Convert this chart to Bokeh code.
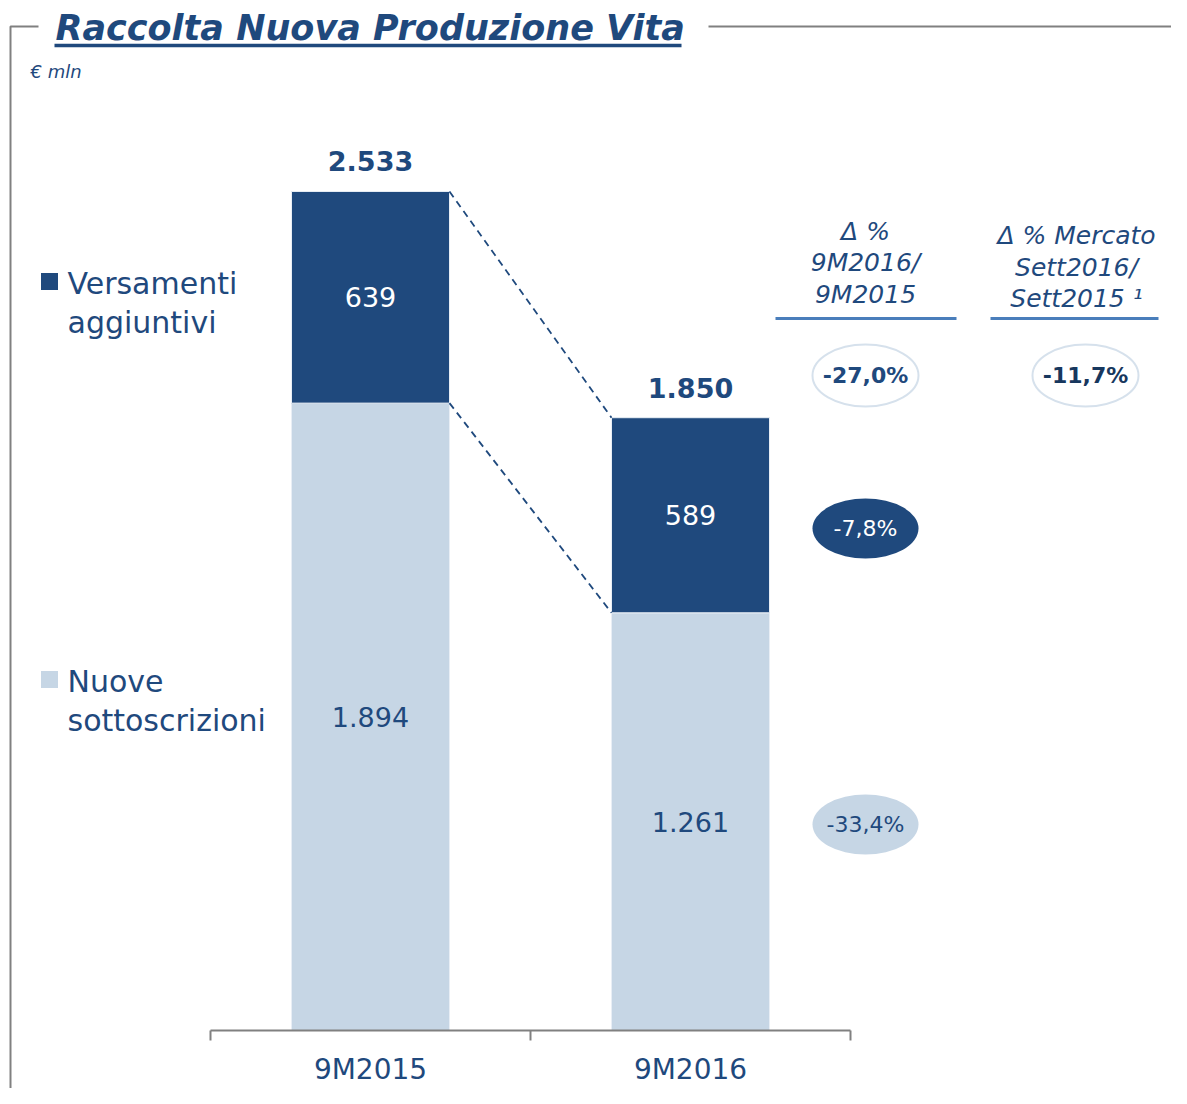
from bokeh.plotting import figure
from bokeh.models import Range1d
from bokeh.core.properties import value
from bokeh.embed import file_html
from bokeh.resources import INLINE

# ---- data ----
categories = ["9M2015", "9M2016"]
nuove = [1894, 1261]
versamenti = [639, 589]
totals = [2533, 1850]
delta_total = "-27,0%"
delta_market = "-11,7%"
delta_versamenti = "-7,8%"
delta_nuove = "-33,4%"
legend_labels = [["Versamenti", "aggiuntivi"], ["Nuove", "sottoscrizioni"]]
header1 = ["Δ %", "9M2016/", "9M2015"]
header2 = ["Δ % Mercato", "Sett2016/", "Sett2015 ¹"]

DARK = "#1F497D"
LIGHT = "#C6D6E5"
TXT = "#1F497D"
GRAY = "#808080"
FONT = value("DejaVu Sans")

W, H = 1171, 1088
K = 0.33124  # px per unit


def X(rx):
    return (rx - 370) / 320.0


def Y(ry):
    return (1030 - ry) / K


p = figure(width=W, height=H, output_backend="svg", toolbar_location=None,
           x_range=Range1d(X(0), X(W)), y_range=Range1d(Y(H), Y(0)),
           min_border=0, min_border_left=0, min_border_right=0,
           min_border_top=0, min_border_bottom=0)
p.axis.visible = False
p.grid.visible = False
p.outline_line_color = None
p.background_fill_color = "white"
p.border_fill_color = "white"

xs = list(range(len(categories)))
bw = 158 / 320.0

# bars
p.vbar(x=xs, width=bw, bottom=0, top=nuove, fill_color=LIGHT,
       line_color="#E8EEF5", line_width=1)
tops = [a + b for a, b in zip(nuove, versamenti)]
p.vbar(x=xs, width=bw, bottom=nuove, top=tops, fill_color=DARK,
       line_color="#E8EEF5", line_width=1)

fmt = lambda v: f"{v:,}".replace(",", ".")

# dashed connectors
p.segment(x0=[xs[0] + bw / 2] * 2, y0=[tops[0], nuove[0]],
          x1=[xs[1] - bw / 2] * 2, y1=[tops[1], nuove[1]],
          line_color=DARK, line_width=1.8, line_dash="7 5")

# segment labels
p.text(x=xs, y=[n + v / 2 for n, v in zip(nuove, versamenti)],
       text=[fmt(v) for v in versamenti], text_color="white",
       text_font=FONT, text_font_size="27px", text_align="center",
       text_baseline="middle")
p.text(x=xs, y=[n / 2 for n in nuove], text=[fmt(v) for v in nuove],
       text_color=TXT, text_font=FONT, text_font_size="27px",
       text_align="center", text_baseline="middle")
p.text(x=xs, y=totals, text=[fmt(v) for v in totals], text_color=TXT,
       text_font=FONT, text_font_size="27px", text_font_style="bold",
       text_align="center", text_baseline="middle", y_offset=-30)

# x axis
p.segment(x0=[-0.5], y0=[0], x1=[len(categories) - 0.5], y1=[0],
          line_color=GRAY, line_width=2)
p.segment(x0=[-0.5 + i for i in range(len(categories) + 1)], y0=[0] * 3,
          x1=[-0.5 + i for i in range(len(categories) + 1)], y1=[Y(1040)] * 3,
          line_color=GRAY, line_width=2)
p.text(x=xs, y=[0] * 2, text=categories, text_color=TXT, text_font=FONT,
       text_font_size="28px", text_align="center", text_baseline="middle",
       y_offset=39)

# frame
p.line(x=[X(10), X(10), X(38)], y=[Y(1110), Y(26), Y(26)], line_color=GRAY,
       line_width=2)
p.line(x=[X(708), X(1190)], y=[Y(26), Y(26)], line_color=GRAY, line_width=2)

# title
p.text(x=[X(55)], y=[Y(27)], text=["Raccolta Nuova Produzione Vita"],
       text_color=TXT, text_font=FONT, text_font_size="35px",
       text_font_style="bold italic", text_align="left", text_baseline="middle")
p.segment(x0=[X(54)], y0=[Y(45)], x1=[X(681)], y1=[Y(45)], line_color=TXT,
          line_width=3.5)
p.text(x=[X(30)], y=[Y(71)], text=["€ mln"], text_color=TXT, text_font=FONT,
       text_font_size="18px", text_font_style="italic", text_align="left",
       text_baseline="middle")

# legend
p.scatter(x=[X(49)], y=[Y(281)], marker="square", size=17, fill_color=DARK,
          line_color=None)
p.scatter(x=[X(49)], y=[Y(679)], marker="square", size=17, fill_color=LIGHT,
          line_color=None)
p.text(x=[X(67)] * 2, y=[Y(283), Y(322)], text=legend_labels[0], text_color=TXT,
       text_font=FONT, text_font_size="30px", text_align="left",
       text_baseline="middle")
p.text(x=[X(67)] * 2, y=[Y(681), Y(720)], text=legend_labels[1], text_color=TXT,
       text_font=FONT, text_font_size="30px", text_align="left",
       text_baseline="middle")

# right headers
p.text(x=[X(865)] * 3, y=[Y(231), Y(262), Y(294)], text=header1, text_color=TXT,
       text_font=FONT, text_font_size="25px", text_font_style="italic",
       text_align="center", text_baseline="middle")
p.text(x=[X(1076)] * 3, y=[Y(235), Y(267), Y(298)], text=header2, text_color=TXT,
       text_font=FONT, text_font_size="25px", text_font_style="italic",
       text_align="center", text_baseline="middle")
p.segment(x0=[X(775), X(990)], y0=[Y(318)] * 2, x1=[X(956), X(1158)],
          y1=[Y(318)] * 2, line_color="#4A7EBB", line_width=3)

# ellipses
p.ellipse(x=[X(865), X(1085)], y=[Y(375)] * 2, width=106, height=62,
          width_units="screen", height_units="screen", fill_color="white",
          line_color="#D6E1EC", line_width=2)
p.ellipse(x=[X(865)], y=[Y(528)], width=106, height=60, width_units="screen",
          height_units="screen", fill_color=DARK, line_color=None)
p.ellipse(x=[X(865)], y=[Y(824)], width=106, height=60, width_units="screen",
          height_units="screen", fill_color=LIGHT, line_color=None)
p.text(x=[X(865)], y=[Y(375)], text=[delta_total],
       text_color=TXT, text_font=FONT, text_font_size="22px",
       text_font_style="bold", text_align="center", text_baseline="middle")
p.text(x=[X(1085)], y=[Y(375)], text=[delta_market],
       text_color="#17375E", text_font=FONT, text_font_size="22px",
       text_font_style="bold", text_align="center", text_baseline="middle")
p.text(x=[X(865)], y=[Y(528)], text=[delta_versamenti], text_color="white",
       text_font=FONT, text_font_size="22px", text_align="center",
       text_baseline="middle")
p.text(x=[X(865)], y=[Y(824)], text=[delta_nuove], text_color=TXT,
       text_font=FONT, text_font_size="22px", text_align="center",
       text_baseline="middle")

open("out.html", "w").write(file_html(p, INLINE))
